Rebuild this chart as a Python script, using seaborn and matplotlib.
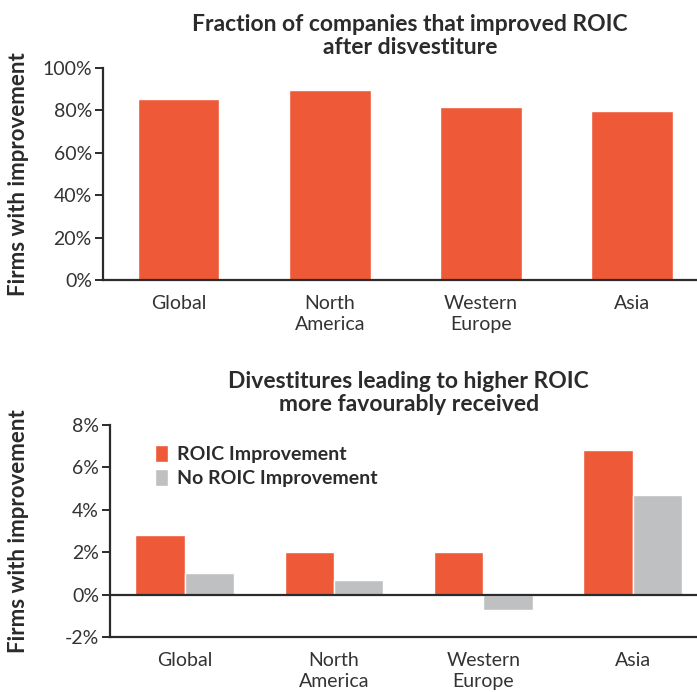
import matplotlib
matplotlib.use("Agg")
import matplotlib.pyplot as plt
import matplotlib.transforms as mtransforms
import seaborn as sns
import pandas as pd
from matplotlib.ticker import FuncFormatter

regions = ["Global", "North\nAmerica", "Western\nEurope", "Asia"]
share_improved = [85.3, 89.5, 81.5, 79.6]
series_names = ["ROIC Improvement", "No ROIC Improvement"]
roic_improvement = [2.8, 2.0, 2.0, 6.8]
no_roic_improvement = [1.0, 0.68, -0.72, 4.7]

ORANGE = "#EE5A37"
GREY = "#BFC0C2"
INK = "#2b2b2b"
FONT = ["Lato", "DejaVu Sans"]

sns.set_theme(style="white")
plt.rcParams["font.family"] = FONT

fig = plt.figure(figsize=(6.97, 6.92), dpi=100)
ax1 = fig.add_axes([103 / 697, 1 - 280 / 692, 594 / 697, 212 / 692])
ax2 = fig.add_axes([110 / 697, 1 - 637 / 692, 587 / 697, 212 / 692])

# Top panel: share of firms with ROIC improvement
top_df = pd.DataFrame({"region": regions, "share": share_improved})
sns.barplot(data=top_df, x="region", y="share", color=ORANGE, width=0.54,
            saturation=1, ax=ax1)
ax1.set_ylim(0, 100)
ax1.set_xlim(-0.5, 3.43)
ax1.set_yticks(range(0, 101, 20))
ax1.yaxis.set_major_formatter(FuncFormatter(lambda v, _: f"{v:.0f}%"))
ax1.set_title("Fraction of companies that improved ROIC\nafter disvestiture",
              fontsize=16.5, fontweight="bold", color=INK, pad=10, linespacing=1.15)
ax1.title.set_x(0.517)

# Bottom panel: market reaction by ROIC outcome
bottom_df = pd.DataFrame({
    "region": regions * 2,
    "series": [series_names[0]] * 4 + [series_names[1]] * 4,
    "value": roic_improvement + no_roic_improvement,
})
sns.barplot(data=bottom_df, x="region", y="value", hue="series",
            palette=[ORANGE, GREY], width=0.66, saturation=1, ax=ax2)
ax2.set_ylim(-2, 8)
ax2.set_xlim(-0.5, 3.43)
ax2.set_yticks(range(-2, 9, 2))
ax2.yaxis.set_major_formatter(FuncFormatter(lambda v, _: f"{v:.0f}%"))
ax2.axhline(0, color=INK, lw=1.6, zorder=5)
ax2.set_title("Divestitures leading to higher ROIC\nmore favourably received",
              fontsize=16.5, fontweight="bold", color=INK, pad=10, linespacing=1.15)
ax2.title.set_x(0.509)
leg = ax2.legend(loc="upper left", bbox_to_anchor=(0.077, 0.905), frameon=False,
                 handlelength=0.65, handleheight=0.95, handletextpad=0.45,
                 labelspacing=0.3, borderaxespad=0, borderpad=0,
                 prop={"family": FONT, "weight": "bold", "size": 14})
for t in leg.get_texts():
    t.set_color(INK)

for ax in (ax1, ax2):
    sns.despine(ax=ax, right=True, top=True)
    ax.spines["left"].set_color(INK)
    ax.spines["bottom"].set_color(INK)
    ax.spines["left"].set_linewidth(1.6)
    ax.spines["bottom"].set_linewidth(1.6)
    ax.set_xlabel("")
    ax.set_ylabel("Firms with improvement", fontsize=16, fontweight="bold",
                  color=INK)
    ax.tick_params(axis="y", which="major", left=True, length=6, width=1.4,
                   color=INK, labelsize=14, labelcolor="#333333", pad=2)
    ax.tick_params(axis="x", bottom=False, labelsize=14, labelcolor="#333333", pad=5)
    for lbl in ax.get_xticklabels():
        lbl.set_linespacing(1.25)
    # place the rotated axis label a fixed distance from the figure's left edge
    ax.yaxis.set_label_coords(
        29 / 697, 0.5,
        transform=mtransforms.blended_transform_factory(fig.transFigure, ax.transAxes))

fig.savefig("out.png", dpi=100)
